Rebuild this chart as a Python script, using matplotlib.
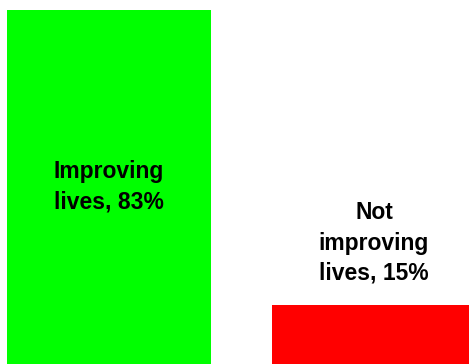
import matplotlib.pyplot as plt

categories = ['Improving\nlives, 83%', 'Not\nimproving\nlives, 15%']
values = [83, 15]
colors = ['#00FF00', '#FF0000']

W, H = 469, 364
fig = plt.figure(figsize=(W / 100, H / 100), dpi=100)

# axes placed in pixel terms; bottom of the value axis sits just below the image
left_px, right_px = -23.5, 506.5
top_px, bottom_px = 10, 370
ax = fig.add_axes([left_px / W, (H - bottom_px) / H,
                   (right_px - left_px) / W, (bottom_px - top_px) / H])

x = range(len(values))
ax.bar(x, values, width=0.77, color=colors)
ax.set_xlim(-0.5, 1.5)
ax.set_ylim(0, 83)
ax.axis('off')

font = dict(family=['Liberation Sans', 'DejaVu Sans'], fontsize=16.5,
            fontweight='bold', ha='center', multialignment='center',
            linespacing=1.4)

ax.annotate(categories[0], (0, values[0] / 2), xytext=(0, 2.5),
            textcoords='offset points', va='center', **font)
ax.annotate(categories[1], (1, values[1]), xytext=(0, 14.5),
            textcoords='offset points', va='bottom', **font)

fig.savefig('out.png', dpi=100)
